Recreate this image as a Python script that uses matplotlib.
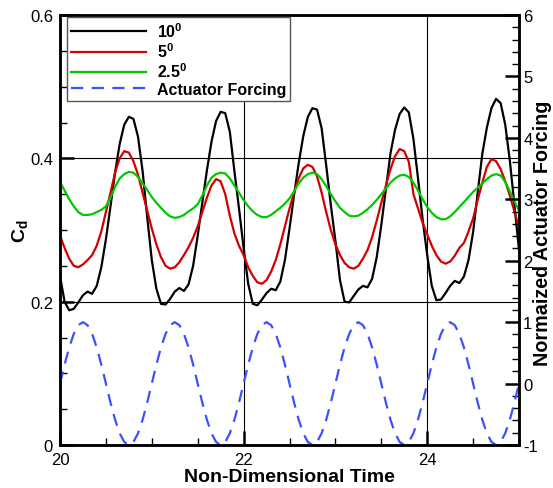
import matplotlib
matplotlib.use("Agg")
import matplotlib.pyplot as plt
from matplotlib.ticker import MultipleLocator, FuncFormatter

plt.rcParams['font.family'] = ['Liberation Sans', 'DejaVu Sans']
plt.rcParams['mathtext.fontset'] = 'custom'
plt.rcParams['mathtext.rm'] = 'Liberation Sans'
plt.rcParams['mathtext.bf'] = 'Liberation Sans:bold'
plt.rcParams['mathtext.it'] = 'Liberation Sans:italic'
plt.rcParams['axes.unicode_minus'] = False

# Sample times (non-dimensional)
time = [20.00, 20.05, 20.10, 20.15, 20.20, 20.25, 20.30, 20.35, 20.40, 20.45,
        20.50, 20.55, 20.60, 20.65, 20.70, 20.75, 20.80, 20.85, 20.90, 20.95,
        21.00, 21.05, 21.10, 21.15, 21.20, 21.25, 21.30, 21.35, 21.40, 21.45,
        21.50, 21.55, 21.60, 21.65, 21.70, 21.75, 21.80, 21.85, 21.90, 21.95,
        22.00, 22.05, 22.10, 22.15, 22.20, 22.25, 22.30, 22.35, 22.40, 22.45,
        22.50, 22.55, 22.60, 22.65, 22.70, 22.75, 22.80, 22.85, 22.90, 22.95,
        23.00, 23.05, 23.10, 23.15, 23.20, 23.25, 23.30, 23.35, 23.40, 23.45,
        23.50, 23.55, 23.60, 23.65, 23.70, 23.75, 23.80, 23.85, 23.90, 23.95,
        24.00, 24.05, 24.10, 24.15, 24.20, 24.25, 24.30, 24.35, 24.40, 24.45,
        24.50, 24.55, 24.60, 24.65, 24.70, 24.75, 24.80, 24.85, 24.90, 24.95,
        25.00]

# Drag coefficient, 10 degree amplitude
cd_10 = [0.236, 0.200, 0.188, 0.190, 0.199, 0.209, 0.214, 0.211, 0.222, 0.248,
         0.287, 0.333, 0.380, 0.420, 0.447, 0.458, 0.455, 0.430, 0.382, 0.318,
         0.258, 0.218, 0.197, 0.196, 0.204, 0.214, 0.219, 0.215, 0.224, 0.250,
         0.292, 0.338, 0.383, 0.423, 0.452, 0.465, 0.463, 0.437, 0.382, 0.330,
         0.275, 0.225, 0.197, 0.195, 0.203, 0.212, 0.218, 0.216, 0.228, 0.258,
         0.302, 0.349, 0.393, 0.431, 0.458, 0.470, 0.468, 0.442, 0.390, 0.335,
         0.285, 0.230, 0.200, 0.199, 0.208, 0.217, 0.222, 0.220, 0.232, 0.262,
         0.307, 0.357, 0.407, 0.440, 0.462, 0.471, 0.464, 0.427, 0.372, 0.315,
         0.265, 0.222, 0.202, 0.203, 0.212, 0.222, 0.229, 0.226, 0.235, 0.258,
         0.297, 0.352, 0.406, 0.443, 0.470, 0.483, 0.477, 0.447, 0.397, 0.335,
         0.272]

# Drag coefficient, 5 degree amplitude
cd_5 = [0.292, 0.275, 0.260, 0.250, 0.248, 0.252, 0.258, 0.265, 0.278, 0.298,
        0.325, 0.352, 0.380, 0.400, 0.410, 0.408, 0.396, 0.377, 0.352, 0.327,
        0.302, 0.280, 0.262, 0.250, 0.246, 0.248, 0.255, 0.265, 0.276, 0.289,
        0.305, 0.325, 0.345, 0.362, 0.371, 0.368, 0.350, 0.320, 0.295, 0.278,
        0.265, 0.248, 0.236, 0.227, 0.225, 0.230, 0.242, 0.258, 0.280, 0.305,
        0.330, 0.352, 0.372, 0.386, 0.391, 0.388, 0.375, 0.352, 0.325, 0.300,
        0.280, 0.265, 0.254, 0.248, 0.246, 0.250, 0.260, 0.272, 0.290, 0.313,
        0.338, 0.362, 0.385, 0.403, 0.413, 0.410, 0.395, 0.350, 0.330, 0.310,
        0.294, 0.278, 0.265, 0.256, 0.253, 0.256, 0.264, 0.275, 0.282, 0.298,
        0.316, 0.342, 0.366, 0.388, 0.399, 0.396, 0.385, 0.368, 0.348, 0.326,
        0.303]

# Drag coefficient, 2.5 degree amplitude
cd_2p5 = [0.367, 0.355, 0.343, 0.333, 0.325, 0.321, 0.321, 0.322, 0.325, 0.328,
          0.333, 0.345, 0.360, 0.372, 0.378, 0.381, 0.380, 0.374, 0.365, 0.356,
          0.346, 0.338, 0.331, 0.324, 0.319, 0.317, 0.318, 0.321, 0.326, 0.330,
          0.336, 0.348, 0.362, 0.373, 0.378, 0.380, 0.379, 0.372, 0.362, 0.352,
          0.342, 0.333, 0.326, 0.321, 0.318, 0.318, 0.321, 0.326, 0.331, 0.337,
          0.344, 0.354, 0.365, 0.373, 0.378, 0.380, 0.378, 0.371, 0.361, 0.350,
          0.340, 0.331, 0.325, 0.320, 0.319, 0.320, 0.324, 0.329, 0.335, 0.342,
          0.350, 0.358, 0.366, 0.372, 0.376, 0.377, 0.374, 0.366, 0.355, 0.343,
          0.332, 0.324, 0.318, 0.315, 0.315, 0.319, 0.325, 0.332, 0.339, 0.346,
          0.353, 0.359, 0.365, 0.371, 0.376, 0.378, 0.376, 0.367, 0.354, 0.340,
          0.327]

# Normalized actuator forcing
forcing = [0.000, 0.309, 0.588, 0.809, 0.951, 1.000, 0.951, 0.809, 0.588, 0.309,
           0.000, -0.309, -0.588, -0.809, -0.951, -1.000, -0.951, -0.809, -0.588, -0.309,
           0.000, 0.309, 0.588, 0.809, 0.951, 1.000, 0.951, 0.809, 0.588, 0.309,
           0.000, -0.309, -0.588, -0.809, -0.951, -1.000, -0.951, -0.809, -0.588, -0.309,
           0.000, 0.309, 0.588, 0.809, 0.951, 1.000, 0.951, 0.809, 0.588, 0.309,
           0.000, -0.309, -0.588, -0.809, -0.951, -1.000, -0.951, -0.809, -0.588, -0.309,
           0.000, 0.309, 0.588, 0.809, 0.951, 1.000, 0.951, 0.809, 0.588, 0.309,
           0.000, -0.309, -0.588, -0.809, -0.951, -1.000, -0.951, -0.809, -0.588, -0.309,
           0.000, 0.309, 0.588, 0.809, 0.951, 1.000, 0.951, 0.809, 0.588, 0.309,
           0.000, -0.309, -0.588, -0.809, -0.951, -1.000, -0.951, -0.809, -0.588, -0.309,
           0.000]

labels = [r'10$^\mathregular{0}$', r'5$^\mathregular{0}$', r'2.5$^\mathregular{0}$', 'Actuator Forcing']
colors = ['#000000', '#d40000', '#00c800', '#3c50ff']

fig = plt.figure(figsize=(5.53, 4.89), dpi=100)
ax = fig.add_axes([60/553, 1 - 446/489, (519 - 60)/553, (446 - 16)/489])
ax2 = ax.twinx()

lw = 1.6
l1, = ax.plot(time, cd_10, color=colors[0], lw=lw, zorder=3)
l2, = ax.plot(time, cd_5, color=colors[1], lw=lw, zorder=3)
l3, = ax.plot(time, cd_2p5, color=colors[2], lw=lw, zorder=3)
l4, = ax2.plot(time, forcing, color=colors[3], lw=lw, dashes=(5.5, 3.8))

ax.set_xlim(20, 25)
ax.set_ylim(0, 0.6)
ax2.set_ylim(-1, 6)

# Reference lines at the major interior ticks
for xv in (22, 24):
    ax.axvline(xv, color='black', lw=0.8, zorder=1)
for yv in (0.2, 0.4):
    ax.axhline(yv, color='black', lw=0.8, zorder=1)

ax.xaxis.set_major_locator(MultipleLocator(2))
ax.xaxis.set_minor_locator(MultipleLocator(0.5))
ax.yaxis.set_major_locator(MultipleLocator(0.2))
ax.yaxis.set_minor_locator(MultipleLocator(0.05))
ax2.yaxis.set_major_locator(MultipleLocator(1))
ax2.yaxis.set_minor_locator(MultipleLocator(0.2))
ax.yaxis.set_major_formatter(FuncFormatter(lambda v, p: '%g' % round(v, 3)))
ax.xaxis.set_major_formatter(FuncFormatter(lambda v, p: '%g' % v))
ax2.yaxis.set_major_formatter(FuncFormatter(lambda v, p: '%g' % round(v, 3)))

for a in (ax, ax2):
    for s in a.spines.values():
        s.set_linewidth(1.8)
ax.tick_params(axis='both', which='major', direction='in', length=10, width=1.8,
               labelsize=12, pad=5, top=False, right=False)
ax.tick_params(axis='both', which='minor', direction='in', length=5, width=1.0,
               top=False, right=False)
ax2.tick_params(axis='y', which='major', direction='in', length=10, width=1.8,
                labelsize=12, pad=3)
ax2.tick_params(axis='y', which='minor', direction='in', length=5, width=1.0)

ax.set_xlabel('Non-Dimensional Time', fontsize=14, fontweight='bold', labelpad=1)
ax.set_ylabel(r'$\mathbf{C_d}$', fontsize=14, labelpad=0)

# Right-hand axis title, set against the right edge of the figure
fig.text(548.5 / 553, 1 - 233.5 / 489, 'Normaized Actuator Forcing',
         rotation=90, rotation_mode='anchor', ha='center', va='baseline',
         fontsize=14.2, fontweight='bold')

leg = ax2.legend([l1, l2, l3, l4], labels, loc='upper left',
                 bbox_to_anchor=(0.015, 0.995), fancybox=False, framealpha=1,
                 edgecolor='#555555', handlelength=4.7, handletextpad=0.7,
                 borderpad=0.25, borderaxespad=0.0, labelspacing=0.1,
                 prop={'weight': 'bold', 'size': 11.5})
leg.get_frame().set_linewidth(1.0)
leg.set_zorder(10)

fig.savefig('out.png', dpi=100)
